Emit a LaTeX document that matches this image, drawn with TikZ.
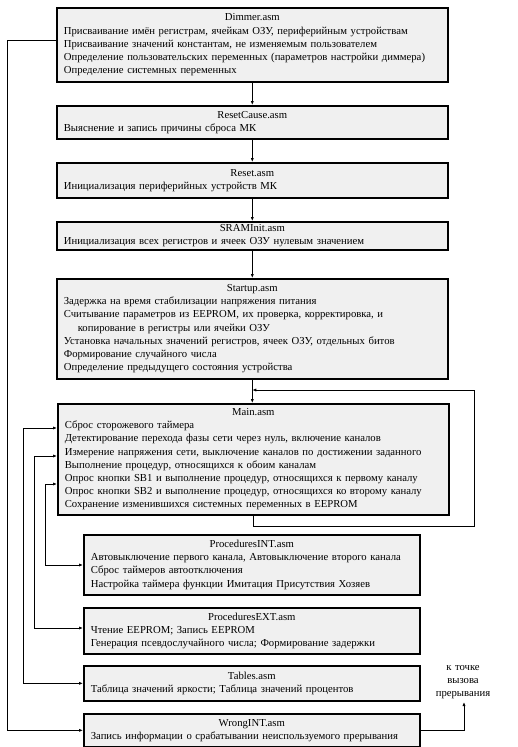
\documentclass[tikz,border=0pt]{standalone}
\usepackage{fontspec}
\setmainfont{Liberation Serif}
\usetikzlibrary{arrows.meta}
\definecolor{boxfill}{RGB}{240,240,240}
\begin{document}
\begin{tikzpicture}[x=1pt,y=-1pt,
  box/.style={draw=black, line width=1.6pt, fill=boxfill, anchor=north west,
    inner xsep=7pt, inner ysep=1pt, text width=#1, align=left,
    font=\fontsize{10.7}{13.2}\selectfont},
  box/.default=377pt,
  conn/.style={line width=1pt, -{Latex[length=4pt,width=3.2pt]}},
  dconn/.style={line width=1pt, {Latex[length=4pt,width=3.2pt]}-{Latex[length=4pt,width=3.2pt]}},
  plain/.style={line width=1pt},
  lbl/.style={font=\fontsize{10.7}{12.8}\selectfont, align=center}
]
\useasboundingbox (0,0) rectangle (518,747);

\node[box, minimum width=391pt, minimum height=74pt] (dimmer) at (56,7) {%
  \centering Dimmer.asm\par\raggedright
  Присваивание имён регистрам, ячейкам ОЗУ, периферийным устройствам\par
  Присваивание значений константам, не изменяемым пользователем\par
  Определение пользовательских переменных (параметров настройки диммера)\par
  Определение системных переменных};

\node[box, minimum width=391pt, minimum height=33pt] (rcause) at (56,105) {%
  \centering ResetCause.asm\par\raggedright
  Выяснение и запись причины сброса МК};

\node[box, minimum width=391pt, minimum height=35pt] (reset) at (56,162) {%
  \centering Reset.asm\par\raggedright
  Инициализация периферийных устройств МК};

\node[box, minimum width=391pt, minimum height=28pt] (sram) at (56,221) {%
  \centering SRAMInit.asm\par\raggedright
  Инициализация всех регистров и ячеек ОЗУ нулевым значением};

\node[box, minimum width=391pt, minimum height=100pt] (startup) at (56,278) {%
  \centering Startup.asm\par\raggedright
  Задержка на время стабилизации напряжения питания\par
  Считывание параметров из EEPROM, их проверка, корректировка, и\par
  \hspace*{14pt}копирование в регистры или ячейки ОЗУ\par
  Установка начальных значений регистров, ячеек ОЗУ, отдельных битов\par
  Формирование случайного числа\par
  Определение предыдущего состояния устройства};

\node[box, minimum width=391pt, minimum height=111pt] (main) at (57,403) {%
  \centering Main.asm\par\raggedright
  Сброс сторожевого таймера\par
  Детектирование перехода фазы сети через нуль, включение каналов\par
  Измерение напряжения сети, выключение каналов по достижении заданного\par
  Выполнение процедур, относящихся к обоим каналам\par
  Опрос кнопки SB1 и выполнение процедур, относящихся к первому каналу\par
  Опрос кнопки SB2 и выполнение процедур, относящихся ко второму каналу\par
  Сохранение изменившихся системных переменных в EEPROM};

\node[box=322pt, minimum width=336pt, minimum height=60pt] (pint) at (83,534) {%
  \centering ProceduresINT.asm\par\raggedright
  Автовыключение первого канала, Автовыключение второго канала\par
  Сброс таймеров автоотключения\par
  Настройка таймера функции Имитация Присутствия Хозяев};

\node[box=322pt, minimum width=336pt, minimum height=46pt] (pext) at (83,607) {%
  \centering ProceduresEXT.asm\par\raggedright
  Чтение EEPROM; Запись EEPROM\par
  Генерация псевдослучайного числа; Формирование задержки};

\node[box=322pt, minimum width=336pt, minimum height=35pt] (tables) at (83,665) {%
  \centering Tables.asm\par\raggedright
  Таблица значений яркости; Таблица значений процентов};

\node[box=322pt, minimum width=336pt, minimum height=33pt] (wrong) at (83,713) {%
  \centering WrongINT.asm\par\raggedright
  Запись информации о срабатывании неиспользуемого прерывания};

\node[lbl] (ret) at (463,682) {к\,\,точке\\вызова\\прерывания};

% main chain
\draw[conn] (dimmer.south) -- (rcause.north);
\draw[conn] (rcause.south) -- (reset.north);
\draw[conn] (reset.south) -- (sram.north);
\draw[conn] (sram.south) -- (startup.north);
\draw[conn] (startup.south) -- (startup.south |- main.north);

% loop back
\coordinate (ylow) at (0,526);
\coordinate (yhigh) at (0,390);
\coordinate (xr) at (474,0);
\draw[conn] (main.south) -- (main.south |- ylow) -- (xr |- ylow) -- (xr |- yhigh) -- (startup.south |- yhigh);

% left connectors
\coordinate (ydim) at (0,40);
\coordinate (xa) at (7,0);
\draw[conn] (dimmer.west |- ydim) -- (xa |- ydim) -- (xa |- wrong.west) -- (wrong.west);

\coordinate (xb) at (23,0);
\coordinate (yb) at (0,428);
\draw[dconn] (main.west |- yb) -- (xb |- yb) -- (xb |- tables.west) -- (tables.west);

\coordinate (xc) at (34,0);
\coordinate (yc) at (0,456);
\coordinate (yc2) at (0,628);
\draw[dconn] (main.west |- yc) -- (xc |- yc) -- (xc |- yc2) -- (pext.west |- yc2);

\coordinate (xd) at (45,0);
\coordinate (yd) at (0,484);
\coordinate (yd2) at (0,565);
\draw[dconn] (main.west |- yd) -- (xd |- yd) -- (xd |- yd2) -- (pint.west |- yd2);

% return from interrupt
\coordinate (xe) at (464,0);
\draw[conn] (wrong.east) -- (xe |- wrong.east) -- (xe |- ret.south);
\end{tikzpicture}
\end{document}
